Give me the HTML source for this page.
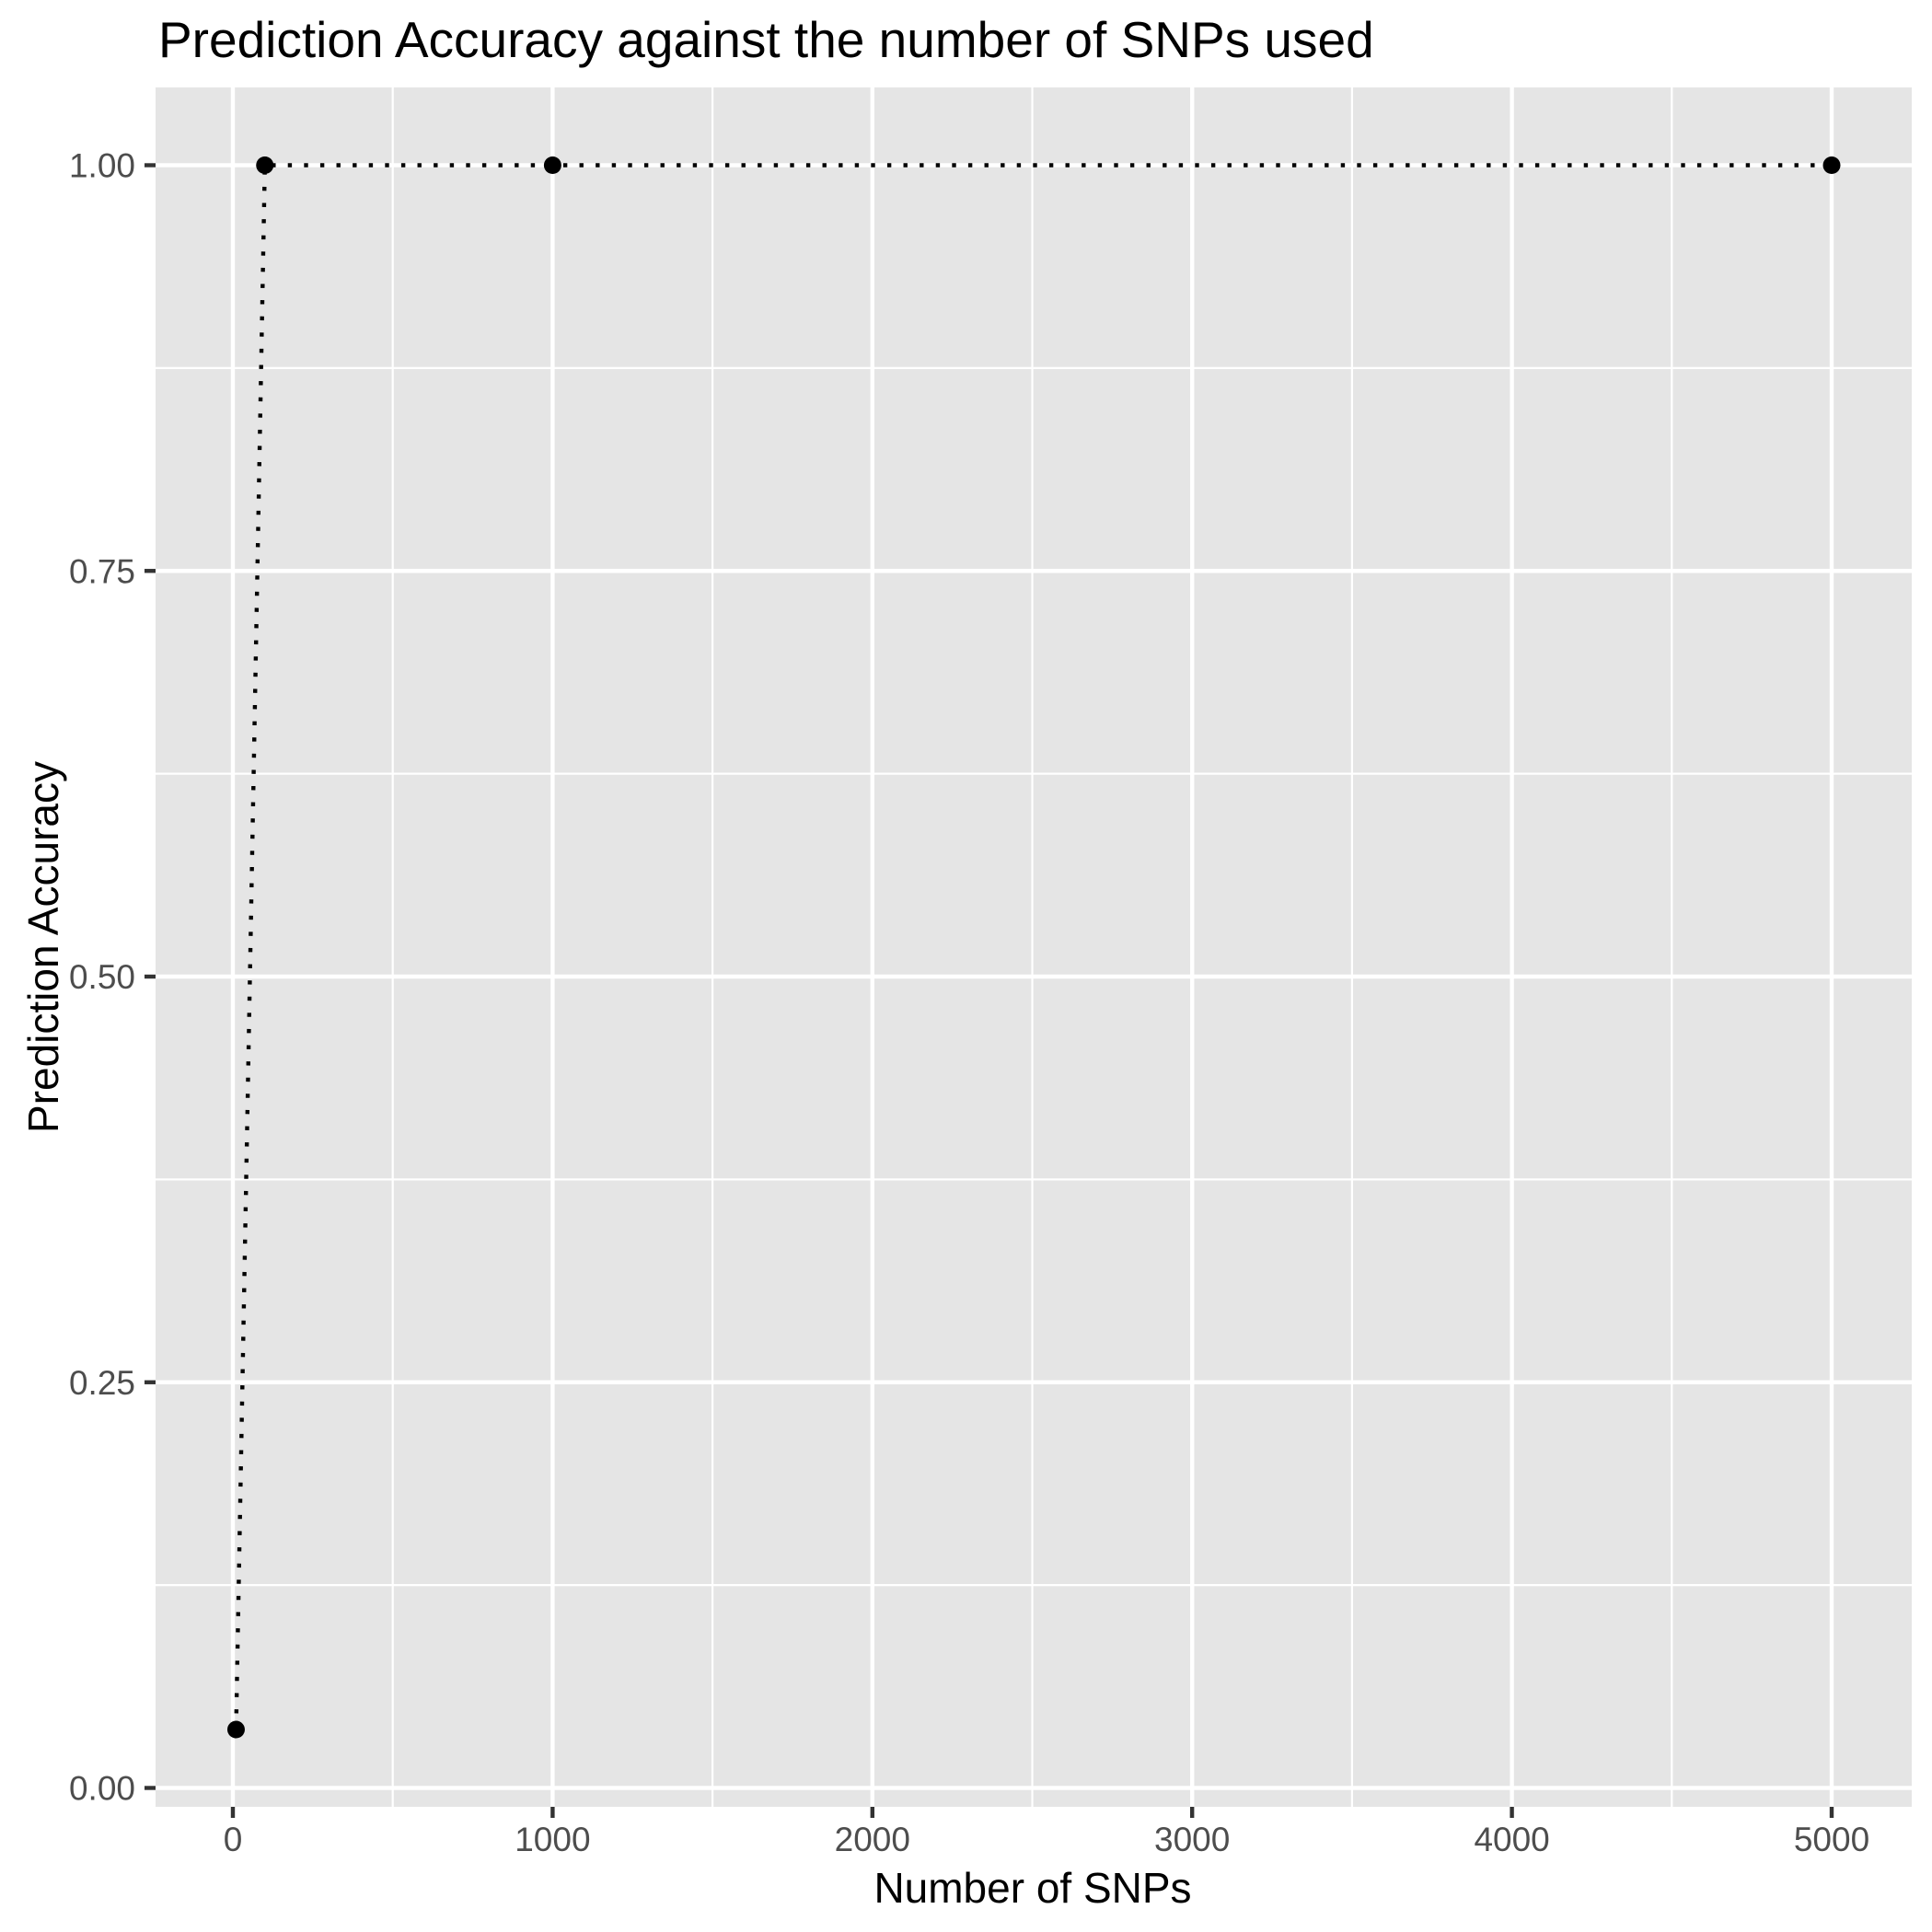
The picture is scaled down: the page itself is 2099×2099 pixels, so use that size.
<!DOCTYPE html>
<html><head><meta charset="utf-8"><style>
html,body{margin:0;padding:0;background:#fff;}
svg{display:block;font-family:"Liberation Sans",Arial,sans-serif;}
</style></head><body>
<svg id="chart" width="2099" height="2099" viewBox="0 0 2099 2099">
<rect width="2099" height="2099" fill="#fff"/>
<text x="172" y="62" font-size="55" fill="#000">Prediction Accuracy against the number of SNPs used</text>
<rect x="169" y="95" width="1908" height="1868" fill="#e5e5e5"/>
<g id="grid"></g>
<g id="axes"></g>
<g id="series"></g>
<text x="1122" y="2067" font-size="46" text-anchor="middle" fill="#000">Number of SNPs</text>
<text transform="translate(63,1029) rotate(-90)" font-size="46" text-anchor="middle" fill="#000">Prediction Accuracy</text>
</svg>
<script>
const snpCounts = [10, 100, 1000, 5000];
const accuracies = [0.036, 1.0, 1.0, 1.0];
const xTicks = [0, 1000, 2000, 3000, 4000, 5000];
const xMinor = [500, 1500, 2500, 3500, 4500];
const yTicks = [0, 0.25, 0.5, 0.75, 1.0];
const yTickLabels = ["0.00", "0.25", "0.50", "0.75", "1.00"];
const yMinor = [0.125, 0.375, 0.625, 0.875];

const PL = 169, PR = 2077, PT = 95, PB = 1963;
function sx(v){ return 253 + v * 0.3474; }
function sy(v){ return 1942.5 - v * 1763; }
const NS = "http://www.w3.org/2000/svg";
function mk(tag, attrs, parent){
  const e = document.createElementNS(NS, tag);
  for (const k in attrs) e.setAttribute(k, attrs[k]);
  parent.appendChild(e); return e;
}
const grid = document.getElementById('grid');
const axes = document.getElementById('axes');
const series = document.getElementById('series');

xMinor.forEach(v => {
  const l = mk('line', {x1:sx(v), x2:sx(v), y1:PT, y2:PB, stroke:'#fff', 'stroke-width':2.2}, grid);
  
  
});
yMinor.forEach(v => {
  const l = mk('line', {x1:PL, x2:PR, y1:sy(v), y2:sy(v), stroke:'#fff', 'stroke-width':2.2}, grid);
  
  
});
xTicks.forEach(v => {
  const l = mk('line', {x1:sx(v), x2:sx(v), y1:PT, y2:PB, stroke:'#fff', 'stroke-width':4.4}, grid);
  
  
  const t = mk('line', {x1:sx(v), x2:sx(v), y1:PB, y2:PB+12, stroke:'#333', 'stroke-width':4.4}, axes);
  
  
  const tx = mk('text', {x:sx(v), y:2011, 'font-size':37, 'text-anchor':'middle', fill:'#4d4d4d'}, axes);
  tx.textContent = String(v);
  
  
});
yTicks.forEach((v, i) => {
  const l = mk('line', {x1:PL, x2:PR, y1:sy(v), y2:sy(v), stroke:'#fff', 'stroke-width':4.4}, grid);
  
  
  const t = mk('line', {x1:PL-12, x2:PL, y1:sy(v), y2:sy(v), stroke:'#333', 'stroke-width':4.4}, axes);
  
  
  const tx = mk('text', {x:147, y:sy(v)+13, 'font-size':37, 'text-anchor':'end', fill:'#4d4d4d'}, axes);
  tx.textContent = yTickLabels[i];
  
  
});
const pts = snpCounts.map((x, i) => sx(x) + ',' + sy(accuracies[i])).join(' ');
const line = mk('polyline', {points:pts, fill:'none', stroke:'#000', 'stroke-width':4.4, 'stroke-dasharray':'4.4 13.2'}, series);


snpCounts.forEach((x, i) => {
  const c = mk('circle', {cx:sx(x), cy:sy(accuracies[i]), r:9.5, fill:'#000'}, series);
  
  
});
</script>
</body></html>
